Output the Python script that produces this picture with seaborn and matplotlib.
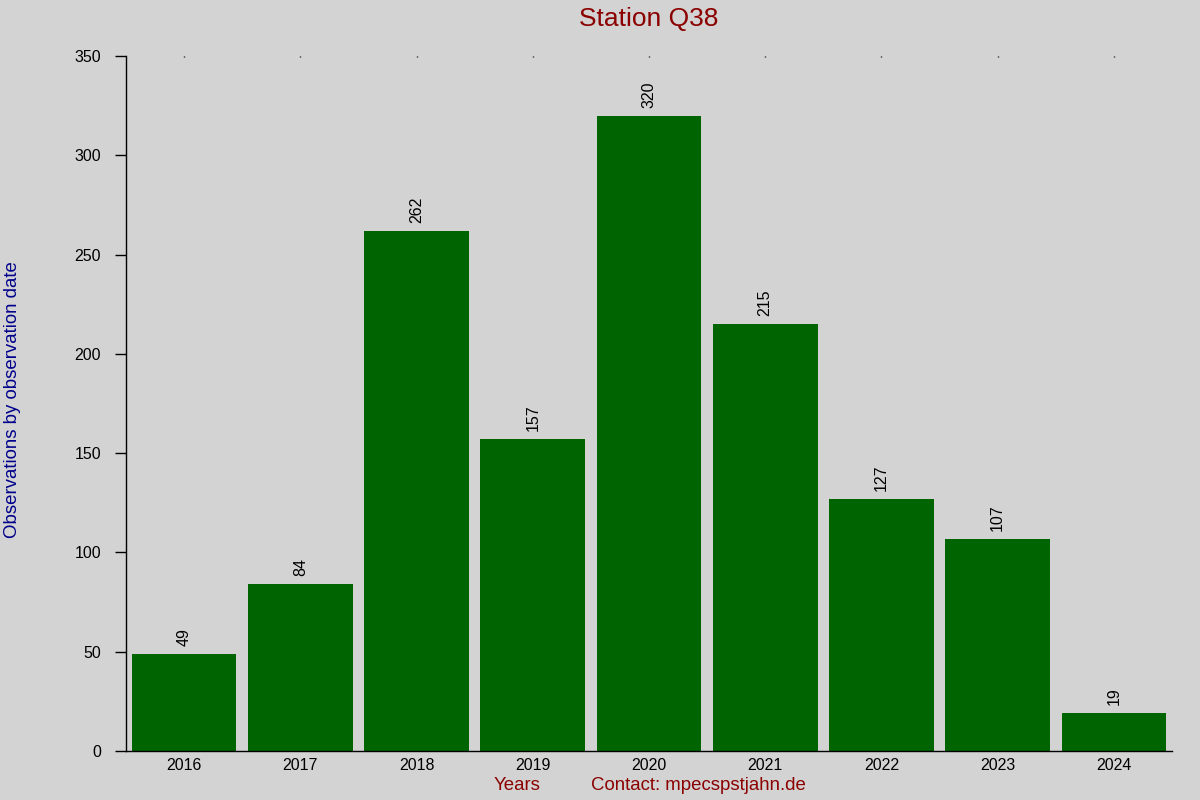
import matplotlib
matplotlib.use("Agg")
import matplotlib.pyplot as plt
import seaborn as sns
import pandas as pd

# Données
years = ["2016", "2017", "2018", "2019", "2020", "2021", "2022", "2023", "2024"]
observations = [49, 84, 262, 157, 320, 215, 127, 107, 19]
y_ticks = [0, 50, 100, 150, 200, 250, 300, 350]

bg = "#d3d3d3"
bar_color = "#006400"
red = "#8b0000"
blue = "#00008b"

sns.set_theme(style="white")
plt.rcParams["font.family"] = ["Liberation Sans", "DejaVu Sans"]

df = pd.DataFrame({"Year": years, "Obs": observations})

fig = plt.figure(figsize=(12, 8), dpi=100, facecolor=bg)
ax = fig.add_axes([0.105, 0.06125, 0.8717, 0.86875])
ax.set_facecolor(bg)

sns.barplot(data=df, x="Year", y="Obs", color=bar_color, saturation=1, width=0.9, ax=ax)
for p in ax.patches:
    p.set_edgecolor("none")

for i, v in enumerate(observations):
    ax.text(i, v + 4, str(v), rotation=90, ha="center", va="bottom", fontsize=11.5, color="black")

ax.set_xlim(-0.5, len(years) - 0.5)
ax.set_ylim(0, 350)
ax.set_yticks(y_ticks)
ax.set_xlabel("")
ax.set_ylabel("")

for s in ["top", "right"]:
    ax.spines[s].set_visible(False)
for s in ["left", "bottom"]:
    ax.spines[s].set_color("black")
    ax.spines[s].set_linewidth(1)

ax.tick_params(axis="y", left=True, length=8, width=1, color="black", labelsize=11.5, labelcolor="black", pad=10)
ax.tick_params(axis="x", bottom=False, top=True, direction="in", length=1, width=1,
               color="black", labelsize=11.5, labelcolor="black", pad=5)

ax.set_title("Station Q38", color=red, fontsize=19, pad=21.5)
fig.text(0.431, 0.018, "Years", color=red, fontsize=13.4, ha="center", va="center")
fig.text(0.582, 0.018, "Contact: mpecspstjahn.de", color=red, fontsize=13.4, ha="center", va="center")
fig.text(0.0105, 0.5, "Observations by observation date", color=blue, fontsize=13.4,
         rotation=90, ha="center", va="center")

fig.savefig("out.png", dpi=100, facecolor=bg)
